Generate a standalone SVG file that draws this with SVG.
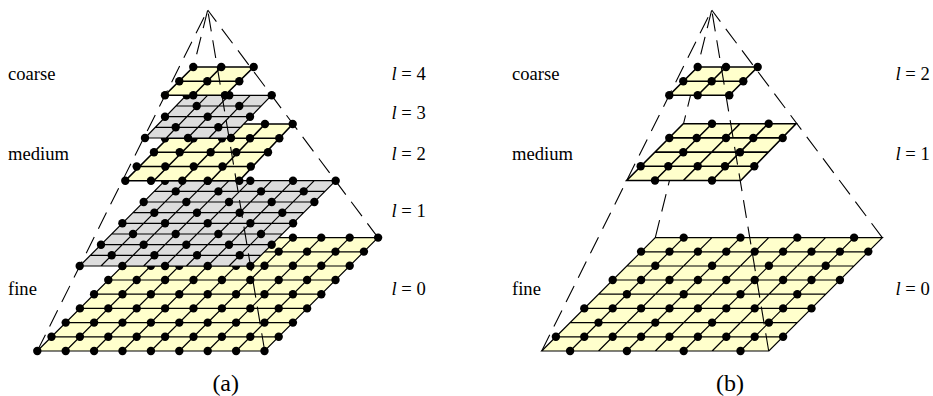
<svg xmlns="http://www.w3.org/2000/svg" width="933" height="396" viewBox="0 0 933 396">
<style>
text{font-family:"Liberation Serif","Times New Roman",serif;font-size:18.6px;fill:#000}
.cap{font-size:24px;text-anchor:middle}
.y{fill:#ffffcc}.g{fill:#dddddd}
.grid{fill:none;stroke:#000;stroke-width:1.2}
.bold{stroke-width:1.6}
.dash{fill:none;stroke:#000;stroke-width:1.1;stroke-dasharray:18 9}
.fl{stroke-dasharray:18 9.3;stroke-dashoffset:19.2}
.bl{stroke-dashoffset:26.4}
.br{stroke-dashoffset:3.5}
.fr{stroke-dashoffset:23.3}
circle{fill:#000;r:4.2px}
</style>
<defs>
<circle id="d"/>
<g id="row9"><use href="#d" x="0"/><use href="#d" x="28.4"/><use href="#d" x="56.8"/><use href="#d" x="85.2"/><use href="#d" x="113.6"/><use href="#d" x="142"/><use href="#d" x="170.4"/><use href="#d" x="198.8"/><use href="#d" x="227.2"/></g>
<g id="row4"><use href="#d" x="28.4"/><use href="#d" x="85.2"/><use href="#d" x="142"/><use href="#d" x="198.8"/></g>
<g id="r1a"><use href="#d" x="0"/><use href="#d" x="42.67"/><use href="#d" x="85.33"/><use href="#d" x="128"/><use href="#d" x="170.67"/></g>
<g id="r1b"><use href="#d" x="21.33"/><use href="#d" x="64"/><use href="#d" x="106.67"/><use href="#d" x="149.33"/></g>
<g id="plane0">
<polygon class="y" points="0,0 227.2,0 340.7,-113.4 113.6,-113.4"/>
<path class="grid" d="M0 0H227.2L340.7 -113.4H113.6ZM14.2 -14.2h227.2M28.4 -28.4h227.2M42.6 -42.6h227.2M56.8 -56.8h227.2M71 -71h227.2M85.2 -85h227.2M99.4 -99.2h227.2M28.4 0l113.5 -113.4M56.8 0l113.5 -113.4M85.2 0l113.5 -113.4M113.6 0l113.5 -113.4M142 0l113.5 -113.4M170.4 0l113.5 -113.4M198.8 0l113.5 -113.4"/>
</g>
</defs>

<g id="connectors-a-back">
<path class="dash fl" d="M207.7 10L37.3 351"/>
<path class="dash bl" d="M207.7 10L150.9 237.6"/>
<path class="dash br" d="M207.7 10L378 237.6"/>
</g>
<g id="a-l0">
<use href="#plane0" x="37.3" y="351"/>
<use href="#row9" x="37.3" y="351"/><use href="#row9" x="51.5" y="336.8"/><use href="#row9" x="65.7" y="322.6"/><use href="#row9" x="79.9" y="308.4"/><use href="#row9" x="94.1" y="294.2"/><use href="#row9" x="108.3" y="280"/><use href="#row9" x="122.5" y="265.8"/><use href="#row9" x="136.7" y="251.6"/><use href="#row9" x="150.9" y="237.6"/>
</g>
<g id="a-l1">
<polygon class="g" points="79.7,266 250.3,266 335.7,180.7 165,180.7"/>
<path class="grid" d="M79.7 266H250.3L335.7 180.7H165ZM90.4 255.3h170.6M101 244.7h170.6M111.7 234h170.6M122.4 223.3h170.6M133 212.7h170.6M143.7 202h170.6M154.4 191.4h170.6M101 266l85.3 -85.3M122.4 266l85.3 -85.3M143.7 266l85.3 -85.3M165 266l85.3 -85.3M186.4 266l85.3 -85.3M207.7 266l85.3 -85.3M229 266l85.3 -85.3"/>
<use href="#r1a" x="79.7" y="266"/><use href="#r1b" x="90.4" y="255.3"/><use href="#r1a" x="101" y="244.7"/><use href="#r1b" x="111.7" y="234"/><use href="#r1a" x="122.4" y="223.3"/><use href="#r1b" x="133" y="212.7"/><use href="#r1a" x="143.7" y="202"/><use href="#r1b" x="154.4" y="191.4"/><use href="#r1a" x="165" y="180.7"/>
</g>
<g id="a-l2">
<polygon class="y" points="125.3,180.7 239.3,180.7 292.7,124 182,124"/>
<path class="grid bold" d="M125.3 180.7H239.3L292.7 124H182ZM139.5 166.5H252.9M153.3 152.3H266.5M167.5 138.3H279.7M153.8 180.7L210 124M182.3 180.7L237.7 124M210.8 180.7L265 124"/>
<circle cx="125.3" cy="180.7"/><circle cx="151" cy="180.7"/><circle cx="182.3" cy="180.7"/><circle cx="207.7" cy="180.7"/><circle cx="239.3" cy="180.7"/>
<circle cx="136.7" cy="166.5"/><circle cx="165.3" cy="166.5"/><circle cx="193.7" cy="166.5"/><circle cx="222.5" cy="166.5"/><circle cx="250.8" cy="166.5"/>
<circle cx="154" cy="152.3"/><circle cx="179.7" cy="152.3"/><circle cx="210.7" cy="152.3"/><circle cx="236.3" cy="152.3"/><circle cx="268" cy="152.3"/>
<circle cx="165" cy="138.3"/><circle cx="193.5" cy="138.3"/><circle cx="222" cy="138.3"/><circle cx="250" cy="138.3"/><circle cx="279.3" cy="138.3"/>
<circle cx="182" cy="124"/><circle cx="208" cy="124"/><circle cx="239" cy="124"/><circle cx="265" cy="124"/><circle cx="292.7" cy="124"/>
</g>
<g id="a-l3">
<polygon class="g" points="145,138 230.3,138 271.5,95.3 186.2,95.3"/>
<path class="grid" d="M145 138H230.3L271.5 95.3H186.2ZM155.3 127.3H240.6M165.6 116.7H250.9M175.9 106H261.2M166.3 138L207.5 95.3M187.7 138L228.9 95.3M209 138L250.2 95.3"/>
<circle cx="145" cy="138"/><circle cx="188" cy="138"/><circle cx="231" cy="138"/>
<circle cx="175.7" cy="127.3"/><circle cx="218.3" cy="127.3"/>
<circle cx="165" cy="116.7"/><circle cx="207.7" cy="116.7"/><circle cx="250" cy="116.7"/>
<circle cx="196.7" cy="106"/><circle cx="239.3" cy="106"/>
<circle cx="186.7" cy="95.3"/><circle cx="229.3" cy="95.3"/><circle cx="271.7" cy="95.3"/>
</g>
<g id="a-l4">
<polygon class="y" points="165,95.3 225,95.3 253.7,67 193.3,67"/>
<path class="grid bold" d="M165 95.3H225L253.7 67H193.3ZM179.3 81.2H239.3M193.3 95.3L221.3 67"/>
<circle cx="165" cy="95.3"/><circle cx="193.3" cy="95.3"/><circle cx="225" cy="95.3"/>
<circle cx="179.3" cy="81.3"/><circle cx="207.3" cy="81.3"/><circle cx="239.3" cy="81.3"/>
<circle cx="193.3" cy="67"/><circle cx="221.3" cy="67"/><circle cx="253.7" cy="67"/>
</g>
<g id="connectors-a-front"><path class="dash fr" d="M207.7 10L264.7 351"/></g>

<g id="connectors-b-back">
<path class="dash fl" d="M711.7 10L541.7 351"/>
<path class="dash bl" d="M711.7 10L655.3 237.6"/>
<path class="dash br" d="M711.7 10L882.3 237.6"/>
</g>
<g id="b-l0">
<use href="#plane0" x="541.7" y="351"/>
<use href="#row4" x="541.7" y="351"/><use href="#row9" x="555.9" y="336.8"/><use href="#row4" x="570.1" y="322.6"/><use href="#row9" x="584.3" y="308.4"/><use href="#row4" x="598.5" y="294.2"/><use href="#row9" x="612.7" y="280"/><use href="#row4" x="626.9" y="265.8"/><use href="#row9" x="641.1" y="251.6"/><use href="#row4" x="655.3" y="237.6"/>
</g>
<g id="b-l1">
<polygon class="y" points="626.7,180.5 740.7,180.5 796,123.7 683.3,123.7"/>
<path class="grid bold" d="M626.7 180.5H740.7L796 123.7H683.3ZM640.8 166.3H754.5M655 152.1H768.3M669.1 137.9H782.2M655 180.5L712 123.7M683.3 180.5L740 123.7M712 180.5L768 123.7"/>
<circle cx="655" cy="180.5"/><circle cx="712" cy="180.5"/>
<circle cx="640.7" cy="166.3"/><circle cx="668.3" cy="166.3"/><circle cx="697.7" cy="166.3"/><circle cx="725" cy="166.3"/><circle cx="754.3" cy="166.3"/>
<circle cx="683.3" cy="152.3"/><circle cx="740" cy="152.3"/>
<circle cx="669.3" cy="138"/><circle cx="696.7" cy="138"/><circle cx="726" cy="138"/><circle cx="753.3" cy="138"/><circle cx="782.7" cy="138"/>
<circle cx="712" cy="123.7"/><circle cx="768.7" cy="123.7"/>
</g>
<g id="b-l2">
<polygon class="y" points="669.3,95.3 729.3,95.3 757.7,67 697.7,67"/>
<path class="grid bold" d="M669.3 95.3H729.3L757.7 67H697.7ZM683.5 81.2H743.5M697.7 95.3L726 67"/>
<circle cx="669.3" cy="95.3"/><circle cx="697.7" cy="95.3"/><circle cx="729.3" cy="95.3"/>
<circle cx="683.3" cy="81.3"/><circle cx="711.7" cy="81.3"/><circle cx="743.3" cy="81.3"/>
<circle cx="697.7" cy="67"/><circle cx="726" cy="67"/><circle cx="757.7" cy="67"/>
</g>
<g id="connectors-b-front"><path class="dash fr" d="M711.7 10L768.7 351"/></g>

<g id="labels">
<text x="8" y="80">coarse</text><text x="8" y="160">medium</text><text x="8" y="295">fine</text>
<text x="391.5" y="80"><tspan font-style="italic">l</tspan> = 4</text>
<text x="391.5" y="118.7"><tspan font-style="italic">l</tspan> = 3</text>
<text x="391.5" y="159.5"><tspan font-style="italic">l</tspan> = 2</text>
<text x="391.5" y="216.7"><tspan font-style="italic">l</tspan> = 1</text>
<text x="391.5" y="295"><tspan font-style="italic">l</tspan> = 0</text>
<text x="512" y="80">coarse</text><text x="512" y="160">medium</text><text x="512" y="295">fine</text>
<text x="895.5" y="80"><tspan font-style="italic">l</tspan> = 2</text>
<text x="895.5" y="159.5"><tspan font-style="italic">l</tspan> = 1</text>
<text x="895.5" y="295"><tspan font-style="italic">l</tspan> = 0</text>
<text class="cap" x="225.7" y="391">(a)</text>
<text class="cap" x="730" y="391">(b)</text>
</g>
</svg>
